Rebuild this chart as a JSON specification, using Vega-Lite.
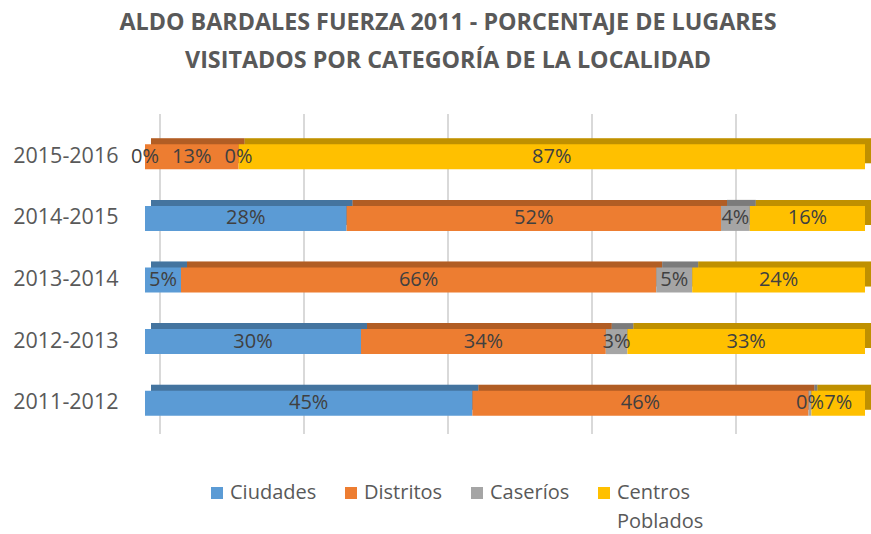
{
  "$schema": "https://vega.github.io/schema/vega-lite/v6.json",
  "width": 720,
  "height": 308,
  "autosize": "none",
  "padding": {"left": 145, "top": 126, "right": 6, "bottom": 100},
  "config": {"view": {"stroke": null}, "font": "Open Sans", "style": {"guide-label": {"lineHeight": 29}}},
  "title": {
    "text": ["ALDO BARDALES FUERZA 2011 - PORCENTAJE DE LUGARES", "VISITADOS POR CATEGORÍA DE LA LOCALIDAD"],
    "fontSize": 23.3,
    "fontWeight": "bold",
    "color": "#595959",
    "anchor": "middle",
    "frame": "group",
    "dx": -57,
    "offset": 40,
    "lineHeight": 38
  },
  "datasets": {
    "grid": [{"g": 0}, {"g": 0.2}, {"g": 0.4}, {"g": 0.6}, {"g": 0.8}],
    "bars": [
      {"period": "2015-2016", "cat": "Ciudades", "o": 1, "v": 0},
      {"period": "2015-2016", "cat": "Distritos", "o": 2, "v": 0.13},
      {"period": "2015-2016", "cat": "Caseríos", "o": 3, "v": 0},
      {"period": "2015-2016", "cat": "Centros Poblados", "o": 4, "v": 0.87},
      {"period": "2014-2015", "cat": "Ciudades", "o": 1, "v": 0.28},
      {"period": "2014-2015", "cat": "Distritos", "o": 2, "v": 0.52},
      {"period": "2014-2015", "cat": "Caseríos", "o": 3, "v": 0.04},
      {"period": "2014-2015", "cat": "Centros Poblados", "o": 4, "v": 0.16},
      {"period": "2013-2014", "cat": "Ciudades", "o": 1, "v": 0.05},
      {"period": "2013-2014", "cat": "Distritos", "o": 2, "v": 0.66},
      {"period": "2013-2014", "cat": "Caseríos", "o": 3, "v": 0.05},
      {"period": "2013-2014", "cat": "Centros Poblados", "o": 4, "v": 0.24},
      {"period": "2012-2013", "cat": "Ciudades", "o": 1, "v": 0.30},
      {"period": "2012-2013", "cat": "Distritos", "o": 2, "v": 0.34},
      {"period": "2012-2013", "cat": "Caseríos", "o": 3, "v": 0.03},
      {"period": "2012-2013", "cat": "Centros Poblados", "o": 4, "v": 0.33},
      {"period": "2011-2012", "cat": "Ciudades", "o": 1, "v": 0.452},
      {"period": "2011-2012", "cat": "Distritos", "o": 2, "v": 0.464},
      {"period": "2011-2012", "cat": "Caseríos", "o": 3, "v": 0.004},
      {"period": "2011-2012", "cat": "Centros Poblados", "o": 4, "v": 0.074}
    ]
  },
  "layer": [
    {
      "data": {"name": "grid"},
      "mark": {"type": "rule", "color": "#d9d9d9", "strokeWidth": 2, "xOffset": 15, "yOffset": -12},
      "encoding": {
        "x": {"field": "g", "type": "quantitative", "scale": {"domain": [0, 1], "nice": false}, "axis": null}
      }
    },
    {
      "data": {"name": "bars"},
      "encoding": {
        "x": {"field": "v", "type": "quantitative", "stack": "normalize", "axis": null},
        "y": {
          "field": "period",
          "type": "nominal",
          "sort": ["2015-2016", "2014-2015", "2013-2014", "2012-2013", "2011-2012"],
          "title": null,
          "scale": {"paddingInner": 0, "paddingOuter": 0},
          "axis": {"domain": false, "ticks": false, "labelFontSize": 21.5, "labelColor": "#595959", "labelPadding": 27}
        },
        "order": {"field": "o", "type": "quantitative"},
        "color": {
          "field": "cat",
          "type": "nominal",
          "scale": {
            "domain": ["Ciudades", "Distritos", "Caseríos", "Centros Poblados"],
            "range": ["#5b9bd5", "#ed7d31", "#a5a5a5", "#ffc000"]
          },
          "legend": {
            "orient": "none",
            "legendX": 62,
            "legendY": 357,
            "direction": "horizontal",
            "title": null,
            "symbolType": "square",
            "symbolSize": 144,
            "symbolStrokeWidth": 0,
            "labelFontSize": 20,
            "labelColor": "#595959",
            "labelBaseline": "middle",
            "labelOffset": 3,
            "columnPadding": 24,
            "labelLimit": 300,
            "labelExpr": "datum.label == 'Centros Poblados' ? ['Centros', 'Poblados'] : [datum.label, '']"
          }
        }
      },
      "layer": [
        {"mark": {"type": "bar", "height": 25, "xOffset": 6, "yOffset": -6}},
        {"mark": {"type": "bar", "height": 25, "xOffset": 6, "yOffset": -6, "color": "black", "opacity": 0.25}, "encoding": {"color": {"value": "black"}}},
        {"mark": {"type": "bar", "height": 25}},
        {
          "mark": {"type": "text", "fontSize": 20, "baseline": "middle"},
          "encoding": {
            "x": {"field": "v", "type": "quantitative", "stack": "normalize", "bandPosition": 0.5, "axis": null},
            "text": {"field": "v", "type": "quantitative", "format": ".0%"},
            "color": {"value": "#404040"}
          }
        }
      ]
    }
  ]
}
